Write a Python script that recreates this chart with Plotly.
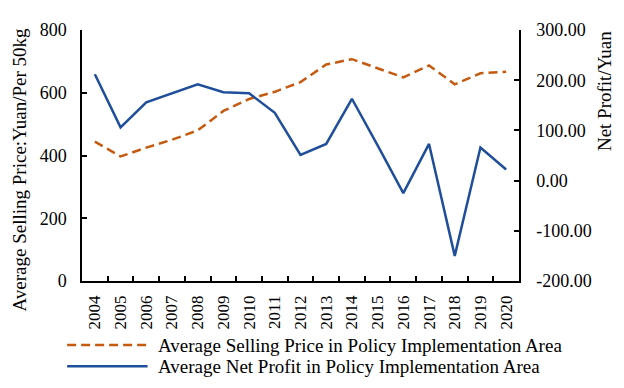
import plotly.graph_objects as go

years = [str(y) for y in range(2004, 2021)]
price = [444, 397, 425, 450, 480, 542, 580, 603, 634, 690, 707, 678, 649, 687, 627, 662, 667]
profit = [212, 106, 156, 174, 192, 176, 174, 135, 51, 73, 163, 70, -25, 73, -150, 66, 22]

price_ticks = [0, 200, 400, 600, 800]
profit_ticks = [-200, -100, 0, 100, 200, 300]
profit_ticktext = ["-200.00", "-100.00", "0.00", "100.00", "200.00", "300.00"]

price_name = "Average Selling Price in Policy Implementation Area"
profit_name = "Average Net Profit in Policy Implementation Area"
left_title = "Average Selling Price:Yuan/Per 50kg"
right_title = "Net Profit/Yuan"

orange = "#C55A11"
blue = "#1F4E9A"
FONT = "Liberation Serif, Times New Roman, serif"


def tf(size):
    return dict(family=FONT, size=size, color="black")


def axis_common():
    return dict(showline=True, linecolor="black", linewidth=1.5, ticks="inside",
                ticklen=5, tickcolor="black", tickwidth=1.5, showgrid=False, zeroline=False)


fig = go.Figure()
fig.add_trace(go.Scatter(x=years, y=price, mode="lines", name=price_name,
                         line=dict(color=orange, width=2.5, dash="9px,5px"), yaxis="y"))
fig.add_trace(go.Scatter(x=years, y=profit, mode="lines", name=profit_name,
                         line=dict(color=blue, width=2.5), yaxis="y2"))

# page body has an 8px margin, so the figure is sized to fit the 624x388 window
fig.update_layout(
    width=616, height=380,
    margin=dict(l=74, r=105, t=14, b=107),
    paper_bgcolor="white", plot_bgcolor="white",
    showlegend=False,
    font=tf(18),
    xaxis=dict(**axis_common(), type="category", tickangle=-90, tickson="boundaries",
               range=[-0.5, len(years) - 0.5], ticklabelstandoff=6, tickfont=tf(17)),
    yaxis=dict(**axis_common(), range=[0, 800], tickvals=price_ticks,
               ticklabelstandoff=10, tickfont=tf(18)),
    yaxis2=dict(**axis_common(), overlaying="y", side="right", range=[-200, 300],
                tickvals=profit_ticks, ticktext=profit_ticktext,
                ticklabelstandoff=12, tickfont=tf(18)),
)

# axis titles
fig.add_annotation(text=left_title, xref="paper", yref="paper", x=-0.142, y=0.444,
                   textangle=-90, showarrow=False, xanchor="center", yanchor="middle",
                   font=tf(19))
fig.add_annotation(text=right_title, xref="paper", yref="paper", x=1.197, y=0.757,
                   textangle=-90, showarrow=False, xanchor="center", yanchor="middle",
                   font=tf(19))

# custom legend
legend_items = [(price_name, orange, "9px,5px", -0.255), (profit_name, blue, "solid", -0.340)]
for name, col, dash, yy in legend_items:
    fig.add_shape(type="line", xref="paper", yref="paper", x0=-0.034, x1=0.150, y0=yy, y1=yy,
                  line=dict(color=col, width=2.5, dash=dash))
    fig.add_annotation(text=name, xref="paper", yref="paper", x=0.170, y=yy,
                       showarrow=False, xanchor="left", yanchor="middle",
                       font=tf(19))

fig.write_html("out.html")
